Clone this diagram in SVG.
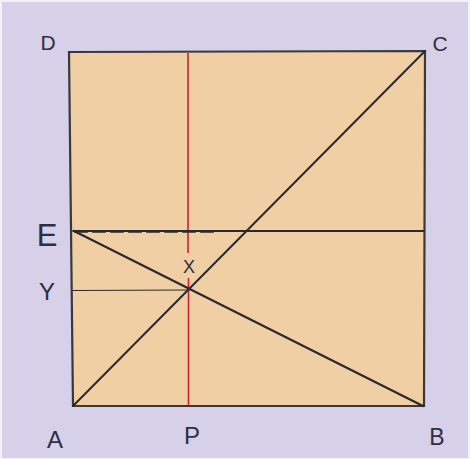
<svg xmlns="http://www.w3.org/2000/svg" width="470" height="459" viewBox="0 0 470 459">
<style>
.lbl{font-family:"Liberation Sans",Arial,sans-serif;fill:#2f2e40;text-anchor:middle}
.ink{stroke:#2b292d;fill:none;stroke-linecap:round}
.red{stroke:#c9242c;stroke-width:1.6;fill:none}
</style>
<rect x="0" y="0" width="470" height="459" fill="#f4f2f8"/>
<rect x="2" y="2" width="466" height="456" fill="#d6d0e9"/>
<g id="square">
<polygon points="69,52 425,51 424,406 73,406" fill="#f0cfa4" stroke="#3a3838" stroke-width="2.2"/>
</g>
<g id="connectors">
<line class="red" x1="188" y1="53" x2="188" y2="253"/>
<line class="red" x1="188.5" y1="278" x2="188.5" y2="405"/>
<line class="ink" x1="73" y1="231" x2="424" y2="231" stroke-width="1.8"/>
<line class="ink" x1="75" y1="231.5" x2="215" y2="231.5" stroke-width="2.6" stroke-dasharray="12,6"/>
<line class="ink" x1="73" y1="406" x2="425" y2="51" stroke-width="2"/>
<line class="ink" x1="74" y1="231" x2="423" y2="406" stroke-width="2.2"/>
<line class="ink" x1="73" y1="290.5" x2="189" y2="290" stroke-width="1.2"/>
</g>
<g id="labels">
<text class="lbl" x="48" y="50" font-size="21">D</text>
<text class="lbl" x="440" y="51" font-size="21">C</text>
<text class="lbl" x="47" y="246" font-size="31">E</text>
<text class="lbl" x="47" y="300" font-size="24">Y</text>
<text class="lbl" x="55" y="448" font-size="24">A</text>
<text class="lbl" x="192" y="444" font-size="24">P</text>
<text class="lbl" x="437" y="445" font-size="23">B</text>
<text class="lbl" x="189" y="273" font-size="18">X</text>
</g>
</svg>
